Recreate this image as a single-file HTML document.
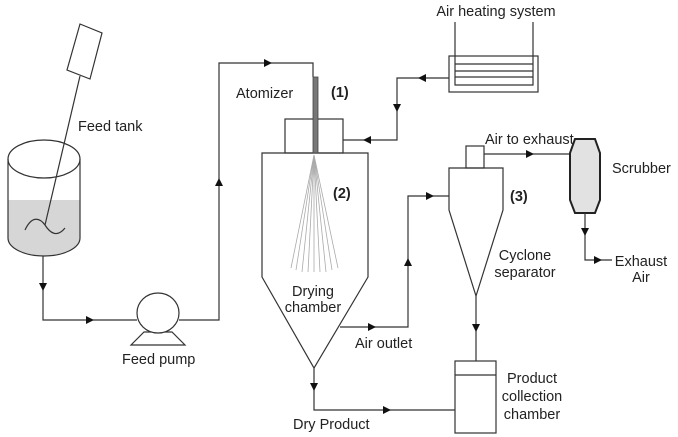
<!DOCTYPE html>
<html><head><meta charset="utf-8"><style>
html,body{margin:0;padding:0;background:#fff;width:678px;height:437px;overflow:hidden}
svg{display:block}
text{font-family:"Liberation Sans",sans-serif;font-size:14.5px;fill:#222}
</style></head><body>
<svg width="678" height="437" viewBox="0 0 678 437" xmlns="http://www.w3.org/2000/svg">
<g fill="none" stroke="#333" stroke-width="1.2">
<path d="M8,200 L8,238 A36,18 0 0 0 80,238 L80,200 Z" fill="#d6d6d6" stroke="none"/>
<ellipse cx="44" cy="159" rx="36" ry="19" fill="#fff"/>
<path d="M8,159 L8,238 A36,18 0 0 0 80,238 L80,159"/>
<line x1="80" y1="76" x2="45" y2="225"/>
<polygon points="80,24 102,33 90,79 67,70" fill="#fff"/>
<path d="M25,230 C32,215 40,218 45,225 C50,233 57,238 65,228"/>
<path d="M43,256 L43,320 L137,320"/>
<path d="M179,320 L219,320 L219,63 L313,63 L313,77"/>
<polygon points="131,345 185,345 172,332 144,332" fill="#fff"/>
<ellipse cx="158" cy="313" rx="21" ry="20" fill="#fff"/>
<rect x="285" y="119" width="58" height="34" fill="#fff"/>
<path d="M262,153 L368,153 L368,277 L314,368 L262,277 Z"/>
<g stroke="#aaa" stroke-width="0.8">
<line x1="314" y1="155" x2="291" y2="268"/><line x1="314" y1="155" x2="296" y2="270"/>
<line x1="314" y1="155" x2="302" y2="272"/><line x1="314" y1="155" x2="308" y2="272"/>
<line x1="314" y1="155" x2="314" y2="272"/><line x1="314" y1="155" x2="320" y2="272"/>
<line x1="314" y1="155" x2="326" y2="272"/><line x1="314" y1="155" x2="332" y2="270"/>
<line x1="314" y1="155" x2="338" y2="268"/>
</g>
<rect x="313" y="77" width="5" height="76" fill="#777" stroke="#444" stroke-width="0.8"/>
<path d="M314,368 L314,410 L455,410"/>
<rect x="449" y="56" width="89" height="36" fill="#fff"/>
<path d="M455,22 L455,85 L533,85 L533,22"/>
<line x1="455" y1="64" x2="533" y2="64"/><line x1="455" y1="71" x2="533" y2="71"/><line x1="455" y1="77" x2="533" y2="77"/>
<path d="M449,78 L397,78 L397,140 L343,140"/>
<path d="M340,327 L408,327 L408,196 L449,196"/>
<path d="M449,168 L503,168 L503,210 L476,296 L449,210 Z"/>
<rect x="466" y="146" width="18" height="22"/>
<path d="M476,296 L476,361"/>
<rect x="455" y="361" width="41" height="72"/>
<line x1="455" y1="375" x2="496" y2="375"/>
<path d="M484,154 L570,154"/>
<polygon points="575,139 595,139 600,153 600,200 595,213 575,213 570,200 570,153" fill="#e2e2e2" stroke="#222" stroke-width="2"/>
<path d="M585,213 L585,260 L612,260"/>
</g>
<g fill="#111">
<path d="M39,283 L47,283 L43,291 z"/>
<path d="M86,316 L86,324 L94,320 z"/>
<path d="M215,186 L223,186 L219,178 z"/>
<path d="M264,59 L264,67 L272,63 z"/>
<path d="M426,74 L426,82 L418,78 z"/>
<path d="M393,104 L401,104 L397,112 z"/>
<path d="M371,136 L371,144 L363,140 z"/>
<path d="M368,323 L368,331 L376,327 z"/>
<path d="M404,266 L412,266 L408,258 z"/>
<path d="M426,192 L426,200 L434,196 z"/>
<path d="M472,324 L480,324 L476,332 z"/>
<path d="M526,150 L526,158 L534,154 z"/>
<path d="M581,228 L589,228 L585,236 z"/>
<path d="M594,256 L594,264 L602,260 z"/>
<path d="M310,383 L318,383 L314,391 z"/>
<path d="M383,406 L383,414 L391,410 z"/>
</g>
<text x="78" y="131">Feed tank</text>
<text x="122" y="364">Feed pump</text>
<text x="236" y="98">Atomizer</text>
<text x="331" y="97" font-weight="bold">(1)</text>
<text x="333" y="198" font-weight="bold">(2)</text>
<text x="510" y="201" font-weight="bold">(3)</text>
<text x="313" y="296" text-anchor="middle">Drying</text>
<text x="313" y="312" text-anchor="middle">chamber</text>
<text x="496" y="16" text-anchor="middle">Air heating system</text>
<text x="355" y="348">Air outlet</text>
<text x="293" y="429">Dry Product</text>
<text x="485" y="144">Air to exhaust</text>
<text x="612" y="173">Scrubber</text>
<text x="525" y="260" text-anchor="middle">Cyclone</text>
<text x="525" y="277" text-anchor="middle">separator</text>
<text x="532" y="383" text-anchor="middle">Product</text>
<text x="532" y="401" text-anchor="middle">collection</text>
<text x="532" y="419" text-anchor="middle">chamber</text>
<text x="641" y="266" text-anchor="middle">Exhaust</text>
<text x="641" y="282" text-anchor="middle">Air</text>
</svg>
</body></html>
